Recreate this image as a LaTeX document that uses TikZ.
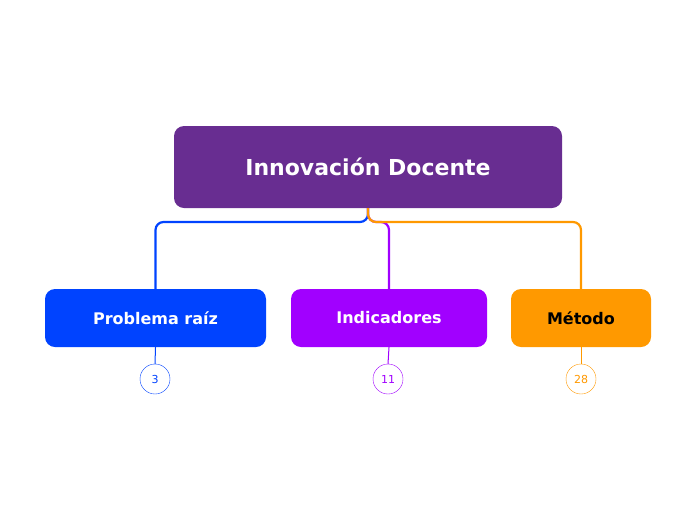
\documentclass[tikz,border=0pt]{standalone}
\usepackage{fontspec}
\setmainfont{DejaVu Sans}
\usetikzlibrary{positioning}
\definecolor{rootc}{HTML}{682D91}
\definecolor{bluec}{HTML}{0043FF}
\definecolor{violc}{HTML}{A100FF}
\definecolor{orc}{HTML}{FF9900}
\begin{document}
\begin{tikzpicture}[x=1pt,y=-1pt,
    topic/.style={rounded corners=10pt,font=\bfseries\fontsize{16}{18}\selectfont,text=white,inner sep=0pt},
    badge/.style={circle,draw,fill=white,minimum size=30pt,inner sep=0pt,font=\fontsize{11}{12}\selectfont},
    link/.style={line width=2.2pt,rounded corners=8pt}]
    \useasboundingbox (0,0) rectangle (696,520);
    \node (root)[topic,fill=rootc,minimum width=388pt,minimum height=82pt,font=\bfseries\fontsize{22}{26}\selectfont] at (368,167) {Innovación Docente};
    \node (prob)[topic,fill=bluec,minimum width=221pt,minimum height=58pt] at (155.5,318) {Problema raíz};
    \node (ind)[topic,fill=violc,minimum width=196pt,minimum height=58pt] at (389,318) {Indicadores};
    \node (met)[topic,fill=orc,text=black,minimum width=140pt,minimum height=58pt] at (581,318) {Método};
    \node (b1)[badge,draw=bluec,text=bluec] at (155,379) {3};
    \node (b2)[badge,draw=violc,text=violc] at (388,379) {11};
    \node (b3)[badge,draw=orc,text=orc] at (581,379) {28};
    % connectors
    \draw[link,bluec] (root.south) |- (prob.north |- 0,222) -- (prob.north);
    \draw[link,violc] (root.south) |- (ind.north |- 0,222) -- (ind.north);
    \draw[link,orc] (root.south) |- (met.north |- 0,222) -- (met.north);
    \draw[bluec,line width=1pt] (prob.south) -- (b1.north);
    \draw[violc,line width=1pt] (ind.south) -- (b2.north);
    \draw[orc,line width=1pt] (met.south) -- (b3.north);
\end{tikzpicture}
\end{document}
